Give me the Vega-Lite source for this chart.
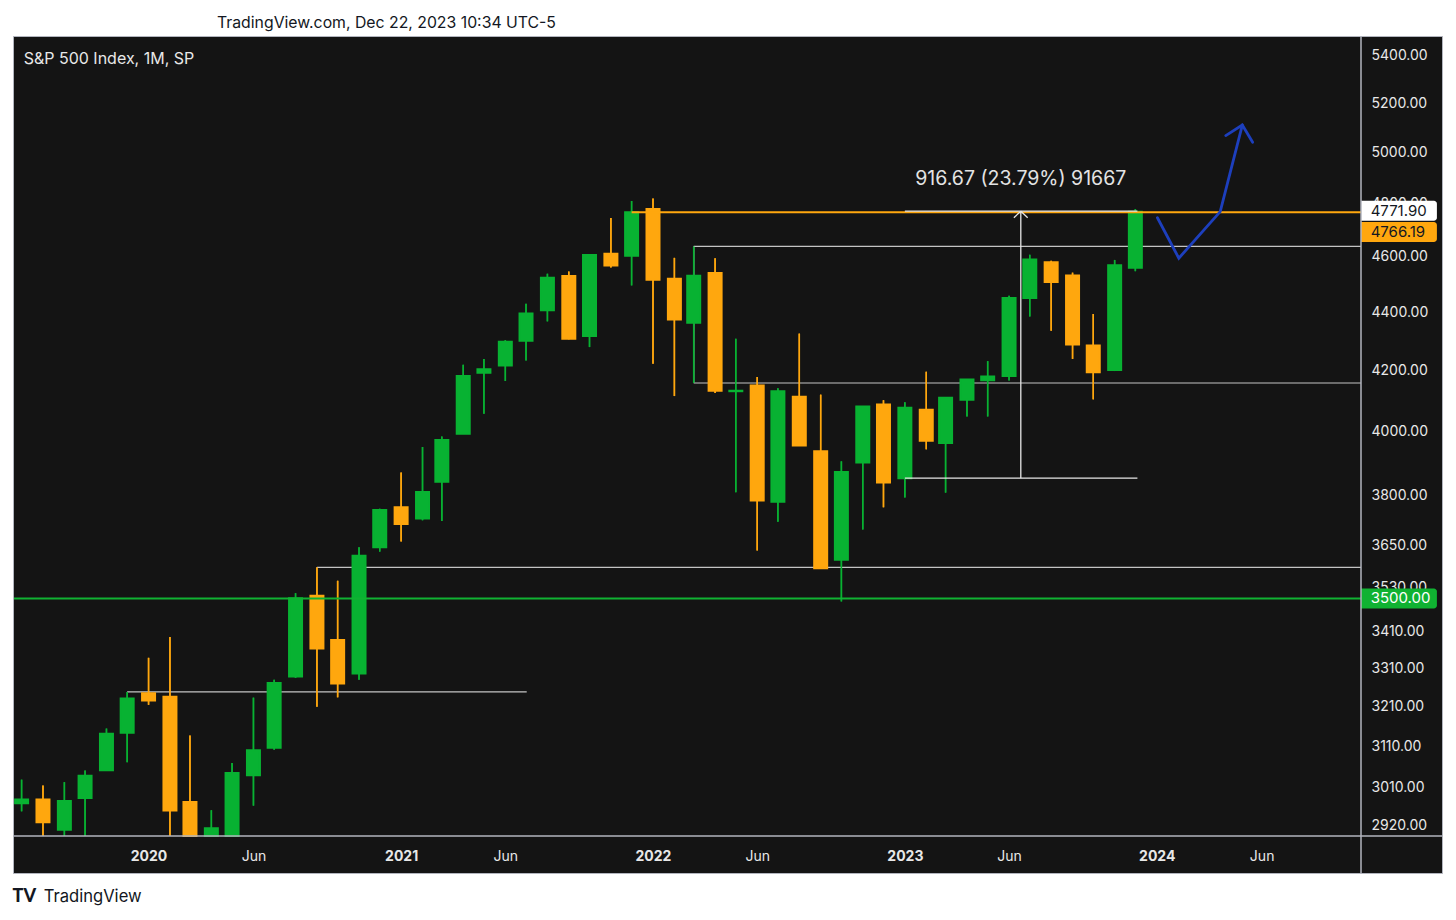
{
  "$schema": "https://vega.github.io/schema/vega-lite/v6.json",
  "width": 1429,
  "height": 837,
  "autosize": {"type": "none"},
  "padding": {"left": 13, "top": 36, "right": 14, "bottom": 47},
  "background": "#ffffff",
  "title": {
    "text": "TradingView.com, Dec 22, 2023 10:34 UTC-5",
    "anchor": "start",
    "frame": "group",
    "dx": 204,
    "offset": 3,
    "font": "Inter",
    "fontSize": 15.8,
    "fontWeight": "normal",
    "color": "#131722"
  },
  "config": {
    "font": "Inter",
    "view": {"fill": "#141414", "stroke": "#b2b5be", "strokeWidth": 1},
    "axis": {
      "labelFont": "Inter",
      "labelFontSize": 14,
      "labelColor": "#e8e8e8",
      "labelOverlap": false,
      "labelFlush": false,
      "ticks": false,
      "domain": false,
      "grid": false
    }
  },
  "datasets": {
    "candles": [
      {"date": "2019-07-01", "open": 2971.41, "high": 3027.98, "low": 2952.22, "close": 2980.38},
      {"date": "2019-08-01", "open": 2980.32, "high": 3013.59, "low": 2822.12, "close": 2926.46},
      {"date": "2019-09-01", "open": 2909.01, "high": 3021.99, "low": 2891.85, "close": 2976.74},
      {"date": "2019-10-01", "open": 2983.69, "high": 3050.10, "low": 2855.94, "close": 3037.56},
      {"date": "2019-11-01", "open": 3050.72, "high": 3154.26, "low": 3050.72, "close": 3140.98},
      {"date": "2019-12-01", "open": 3143.85, "high": 3247.93, "low": 3070.33, "close": 3230.78},
      {"date": "2020-01-01", "open": 3244.67, "high": 3337.77, "low": 3214.64, "close": 3225.52},
      {"date": "2020-02-01", "open": 3235.66, "high": 3393.52, "low": 2855.84, "close": 2954.22},
      {"date": "2020-03-01", "open": 2974.28, "high": 3136.72, "low": 2191.86, "close": 2584.59},
      {"date": "2020-04-01", "open": 2498.08, "high": 2954.86, "low": 2447.49, "close": 2912.43},
      {"date": "2020-05-01", "open": 2869.09, "high": 3068.67, "low": 2766.64, "close": 3044.31},
      {"date": "2020-06-01", "open": 3038.78, "high": 3233.13, "low": 2965.66, "close": 3100.29},
      {"date": "2020-07-01", "open": 3105.92, "high": 3279.99, "low": 3101.17, "close": 3271.12},
      {"date": "2020-08-01", "open": 3288.26, "high": 3514.77, "low": 3284.53, "close": 3500.31},
      {"date": "2020-09-01", "open": 3507.44, "high": 3588.11, "low": 3209.45, "close": 3363.00},
      {"date": "2020-10-01", "open": 3385.87, "high": 3549.85, "low": 3233.94, "close": 3269.96},
      {"date": "2020-11-01", "open": 3296.20, "high": 3645.99, "low": 3279.74, "close": 3621.63},
      {"date": "2020-12-01", "open": 3645.87, "high": 3760.20, "low": 3633.40, "close": 3756.07},
      {"date": "2021-01-01", "open": 3764.61, "high": 3870.90, "low": 3662.71, "close": 3714.24},
      {"date": "2021-02-01", "open": 3731.17, "high": 3950.43, "low": 3725.62, "close": 3811.15},
      {"date": "2021-03-01", "open": 3842.51, "high": 3983.87, "low": 3723.34, "close": 3972.89},
      {"date": "2021-04-01", "open": 3992.78, "high": 4218.78, "low": 3992.78, "close": 4181.17},
      {"date": "2021-05-01", "open": 4191.98, "high": 4238.04, "low": 4056.88, "close": 4204.11},
      {"date": "2021-06-01", "open": 4216.52, "high": 4302.43, "low": 4164.40, "close": 4297.50},
      {"date": "2021-07-01", "open": 4300.73, "high": 4429.97, "low": 4233.13, "close": 4395.26},
      {"date": "2021-08-01", "open": 4406.86, "high": 4537.36, "low": 4367.73, "close": 4522.68},
      {"date": "2021-09-01", "open": 4528.80, "high": 4545.85, "low": 4305.91, "close": 4307.54},
      {"date": "2021-10-01", "open": 4317.16, "high": 4608.08, "low": 4278.94, "close": 4605.38},
      {"date": "2021-11-01", "open": 4610.62, "high": 4743.83, "low": 4560.00, "close": 4567.00},
      {"date": "2021-12-01", "open": 4602.82, "high": 4808.93, "low": 4495.12, "close": 4766.18},
      {"date": "2022-01-01", "open": 4778.14, "high": 4818.62, "low": 4222.62, "close": 4515.55},
      {"date": "2022-02-01", "open": 4519.57, "high": 4595.31, "low": 4114.65, "close": 4373.94},
      {"date": "2022-03-01", "open": 4363.14, "high": 4637.30, "low": 4157.87, "close": 4530.41},
      {"date": "2022-04-01", "open": 4540.32, "high": 4593.45, "low": 4124.28, "close": 4131.93},
      {"date": "2022-05-01", "open": 4130.61, "high": 4307.66, "low": 3810.32, "close": 4132.15},
      {"date": "2022-06-01", "open": 4149.78, "high": 4177.51, "low": 3636.87, "close": 3785.38},
      {"date": "2022-07-01", "open": 3781.00, "high": 4140.15, "low": 3721.56, "close": 4130.29},
      {"date": "2022-08-01", "open": 4112.38, "high": 4325.28, "low": 3954.53, "close": 3955.00},
      {"date": "2022-09-01", "open": 3936.73, "high": 4119.28, "low": 3584.13, "close": 3585.62},
      {"date": "2022-10-01", "open": 3609.78, "high": 3905.42, "low": 3491.58, "close": 3871.98},
      {"date": "2022-11-01", "open": 3901.79, "high": 4080.11, "low": 3698.15, "close": 4080.11},
      {"date": "2022-12-01", "open": 4087.14, "high": 4100.96, "low": 3764.49, "close": 3839.50},
      {"date": "2023-01-01", "open": 3853.29, "high": 4094.21, "low": 3794.33, "close": 4076.60},
      {"date": "2023-02-01", "open": 4070.07, "high": 4195.44, "low": 3943.08, "close": 3970.15},
      {"date": "2023-03-01", "open": 3963.34, "high": 4110.75, "low": 3808.86, "close": 4109.31},
      {"date": "2023-04-01", "open": 4102.20, "high": 4170.06, "low": 4048.28, "close": 4169.48},
      {"date": "2023-05-01", "open": 4166.79, "high": 4231.10, "low": 4048.00, "close": 4179.83},
      {"date": "2023-06-01", "open": 4180.88, "high": 4458.48, "low": 4166.00, "close": 4450.38},
      {"date": "2023-07-01", "open": 4450.48, "high": 4607.07, "low": 4385.05, "close": 4588.96},
      {"date": "2023-08-01", "open": 4578.83, "high": 4584.62, "low": 4335.31, "close": 4507.66},
      {"date": "2023-09-01", "open": 4530.60, "high": 4541.25, "low": 4238.63, "close": 4288.05},
      {"date": "2023-10-01", "open": 4284.52, "high": 4393.57, "low": 4103.78, "close": 4193.80},
      {"date": "2023-11-01", "open": 4201.27, "high": 4587.64, "low": 4197.74, "close": 4567.80},
      {"date": "2023-12-01", "open": 4559.43, "high": 4778.01, "low": 4546.50, "close": 4768.00}
    ],
    "drawings": [
      {"kind": "box", "x1": "2022-03-01", "x2": "2024-10-23", "p1": 4637.30, "p2": 4637.30},
      {"kind": "box", "x1": "2022-03-01", "x2": "2022-03-01", "p1": 4157.87, "p2": 4637.30},
      {"kind": "box", "x1": "2022-03-01", "x2": "2024-10-23", "p1": 4157.87, "p2": 4157.87},
      {"kind": "box", "x1": "2020-09-01", "x2": "2024-10-23", "p1": 3588.11, "p2": 3588.11},
      {"kind": "box", "x1": "2019-12-01", "x2": "2021-07-02", "p1": 3247.93, "p2": 3247.93},
      {"kind": "measure", "x1": "2023-01-01", "x2": "2023-12-04", "p1": 4769.96, "p2": 4769.96},
      {"kind": "measure", "x1": "2023-01-01", "x2": "2023-12-04", "p1": 3853.29, "p2": 3853.29},
      {"kind": "measure", "x1": "2023-06-18", "x2": "2023-06-18", "p1": 3853.29, "p2": 4769.96},
      {"kind": "measure", "x1": "2023-06-08", "x2": "2023-06-18", "p1": 4745.1, "p2": 4769.96},
      {"kind": "measure", "x1": "2023-06-18", "x2": "2023-06-28", "p1": 4769.96, "p2": 4745.1},
      {"kind": "resistance", "x1": "2021-12-01", "x2": "2024-10-23", "p1": 4766.19, "p2": 4766.19},
      {"kind": "support", "x1": "2019-06-20", "x2": "2024-10-23", "p1": 3500, "p2": 3500}
    ],
    "arrow": [
      {"seg": "path", "i": 1, "date": "2024-01-02", "price": 4745},
      {"seg": "path", "i": 2, "date": "2024-02-02", "price": 4594},
      {"seg": "path", "i": 3, "date": "2024-04-02", "price": 4768},
      {"seg": "path", "i": 4, "date": "2024-05-04", "price": 5110},
      {"seg": "head", "i": 1, "date": "2024-04-10", "price": 5067},
      {"seg": "head", "i": 2, "date": "2024-05-04", "price": 5110},
      {"seg": "head", "i": 3, "date": "2024-05-19", "price": 5040}
    ],
    "tags": [
      {"label": "4771.90", "at": 4771.90, "kind": "last"},
      {"label": "4766.19", "at": 4691, "kind": "resistance"},
      {"label": "3500.00", "at": 3500, "kind": "support"}
    ]
  },
  "layer": [
    {
      "data": {"name": "candles"},
      "mark": {"type": "rule", "strokeWidth": 1.5, "clip": true},
      "encoding": {
        "x": {
          "field": "date",
          "type": "temporal",
          "title": null,
          "scale": {
            "domain": [{"year": 2019, "month": 6, "date": 20}, {"year": 2024, "month": 10, "date": 23}],
            "range": [1, 1348],
            "padding": 0
          },
          "axis": {
            "title": null,
            "orient": "bottom",
            "offset": -37,
            "zindex": 1,
            "values": [
              {"year": 2020, "month": 1, "date": 1}, {"year": 2020, "month": 6, "date": 1},
              {"year": 2021, "month": 1, "date": 1}, {"year": 2021, "month": 6, "date": 1},
              {"year": 2022, "month": 1, "date": 1}, {"year": 2022, "month": 6, "date": 1},
              {"year": 2023, "month": 1, "date": 1}, {"year": 2023, "month": 6, "date": 1},
              {"year": 2024, "month": 1, "date": 1}, {"year": 2024, "month": 6, "date": 1}
            ],
            "labelExpr": "month(datum.value) == 0 ? timeFormat(datum.value, '%Y') : 'Jun'",
            "labelFontWeight": {"condition": {"test": "month(datum.value) == 0", "value": "bold"}, "value": "normal"},
            "labelBaseline": "middle",
            "labelAlign": "center",
            "labelPadding": 20
          }
        },
        "y": {
          "field": "low",
          "type": "quantitative",
          "title": null,
          "scale": {"type": "log", "domain": [2894.6, 5487], "range": [800, 0], "padding": 0, "clamp": true, "nice": false, "zero": false},
          "axis": {
            "title": null,
            "orient": "right",
            "offset": -81,
            "values": [2920, 3010, 3110, 3210, 3310, 3410, 3530, 3650, 3800, 4000, 4200, 4400, 4600, 4800, 5000, 5200, 5400],
            "format": ".2f",
            "labelPadding": 10
          }
        },
        "y2": {"field": "high"},
        "color": {"condition": {"test": "datum.close >= datum.open", "value": "#08b232"}, "value": "#ffa70e"}
      }
    },
    {
      "data": {"name": "drawings"},
      "transform": [{"filter": "datum.kind == 'box'"}],
      "mark": {"type": "rule", "stroke": "#c4c4c4", "strokeWidth": 1.2, "clip": true},
      "encoding": {
        "x": {"field": "x1", "type": "temporal", "title": null},
        "x2": {"field": "x2"},
        "y": {"field": "p1", "type": "quantitative", "title": null},
        "y2": {"field": "p2"}
      }
    },
    {
      "data": {"name": "candles"},
      "mark": {"type": "rule", "strokeWidth": 1.5, "clip": true},
      "encoding": {
        "x": {"field": "date", "type": "temporal", "title": null},
        "y": {"field": "low", "type": "quantitative", "title": null},
        "y2": {"field": "high"},
        "color": {"condition": {"test": "datum.close >= datum.open", "value": "#08b232"}, "value": "#ffa70e"}
      }
    },
    {
      "data": {"name": "candles"},
      "mark": {"type": "bar", "width": 13, "strokeWidth": 2, "clip": true},
      "encoding": {
        "x": {"field": "date", "type": "temporal", "title": null},
        "y": {"field": "open", "type": "quantitative", "title": null},
        "y2": {"field": "close"},
        "color": {"condition": {"test": "datum.close >= datum.open", "value": "#08b232"}, "value": "#ffa70e"},
        "stroke": {"condition": {"test": "datum.close >= datum.open", "value": "#08b232"}, "value": "#ffa70e"}
      }
    },
    {
      "data": {"name": "drawings"},
      "transform": [{"filter": "datum.kind == 'resistance' || datum.kind == 'support'"}],
      "mark": {"type": "rule", "strokeWidth": 2, "clip": true},
      "encoding": {
        "x": {"field": "x1", "type": "temporal", "title": null},
        "x2": {"field": "x2"},
        "y": {"field": "p1", "type": "quantitative", "title": null},
        "y2": {"field": "p2"},
        "color": {
          "field": "kind",
          "type": "nominal",
          "scale": {"domain": ["resistance", "support", "last"], "range": ["#ffa70e", "#10b232", "#ffffff"]},
          "legend": null
        }
      }
    },
    {
      "data": {"name": "drawings"},
      "transform": [{"filter": "datum.kind == 'measure'"}],
      "mark": {"type": "rule", "stroke": "#e6e6e6", "strokeWidth": 1.3, "clip": true},
      "encoding": {
        "x": {"field": "x1", "type": "temporal", "title": null},
        "x2": {"field": "x2"},
        "y": {"field": "p1", "type": "quantitative", "title": null},
        "y2": {"field": "p2"}
      }
    },
    {
      "data": {"name": "arrow"},
      "mark": {"type": "line", "stroke": "#1d3fbd", "strokeWidth": 2.8, "strokeCap": "round", "clip": true},
      "encoding": {
        "x": {"field": "date", "type": "temporal", "title": null},
        "y": {"field": "price", "type": "quantitative", "title": null},
        "detail": {"field": "seg"},
        "order": {"field": "i"}
      }
    },
    {
      "data": {"values": [{"date": "2023-06-18", "price": 4769.96, "text": "916.67 (23.79%) 91667"}]},
      "mark": {"type": "text", "dy": -32, "align": "center", "baseline": "middle", "font": "Inter", "fontSize": 19.5, "color": "#e3e3e3"},
      "encoding": {
        "x": {"field": "date", "type": "temporal", "title": null},
        "y": {"field": "price", "type": "quantitative", "title": null},
        "text": {"field": "text"}
      }
    },
    {
      "data": {"values": [{"date": "2019-07-04", "price": 5387, "text": "S&P 500 Index, 1M, SP"}]},
      "mark": {"type": "text", "align": "left", "baseline": "middle", "font": "Inter", "fontSize": 16, "color": "#e8e8e8"},
      "encoding": {
        "x": {"field": "date", "type": "temporal", "title": null},
        "y": {"field": "price", "type": "quantitative", "title": null},
        "text": {"field": "text"}
      }
    },
    {
      "data": {"name": "tags"},
      "mark": {"type": "bar", "height": 20, "cornerRadiusTopRight": 3, "cornerRadiusBottomRight": 3},
      "encoding": {
        "x": {"datum": {"year": 2024, "month": 10, "date": 23}, "type": "temporal", "title": null},
        "x2": {"datum": {"year": 2025, "month": 2, "date": 10}},
        "y": {"field": "at", "type": "quantitative", "title": null},
        "color": {"field": "kind", "type": "nominal", "legend": null}
      }
    },
    {
      "data": {"name": "tags"},
      "mark": {"type": "text", "align": "left", "baseline": "middle", "font": "Inter", "fontSize": 15},
      "encoding": {
        "x": {"datum": {"year": 2024, "month": 11, "date": 6}, "type": "temporal", "title": null},
        "y": {"field": "at", "type": "quantitative", "title": null},
        "text": {"field": "label"},
        "color": {"condition": {"test": "datum.kind == 'support'", "value": "#ffffff"}, "value": "#131722"}
      }
    },
    {
      "data": {"values": [{"edge": "2024-10-23"}]},
      "mark": {"type": "rule", "stroke": "#b2b5be", "strokeWidth": 1.5},
      "encoding": {
        "x": {"field": "edge", "type": "temporal", "title": null}
      }
    },
    {
      "data": {"values": [{"edge": 2894.6}]},
      "mark": {"type": "rule", "stroke": "#b2b5be", "strokeWidth": 1.5},
      "encoding": {
        "y": {"field": "edge", "type": "quantitative", "title": null}
      }
    },
    {
      "data": {"values": [{"date": "2019-06-18", "price": 2894.6, "text": "TV"}]},
      "mark": {"type": "text", "dy": 61, "align": "left", "baseline": "middle", "font": "Lato", "fontWeight": 900, "fontSize": 18, "color": "#131722"},
      "encoding": {
        "x": {"field": "date", "type": "temporal", "title": null},
        "y": {"field": "price", "type": "quantitative", "title": null},
        "text": {"field": "text"}
      }
    },
    {
      "data": {"values": [{"date": "2019-08-02", "price": 2894.6, "text": "TradingView"}]},
      "mark": {"type": "text", "dy": 61, "align": "left", "baseline": "middle", "font": "Inter", "fontSize": 16.6, "color": "#131722"},
      "encoding": {
        "x": {"field": "date", "type": "temporal", "title": null},
        "y": {"field": "price", "type": "quantitative", "title": null},
        "text": {"field": "text"}
      }
    }
  ]
}
